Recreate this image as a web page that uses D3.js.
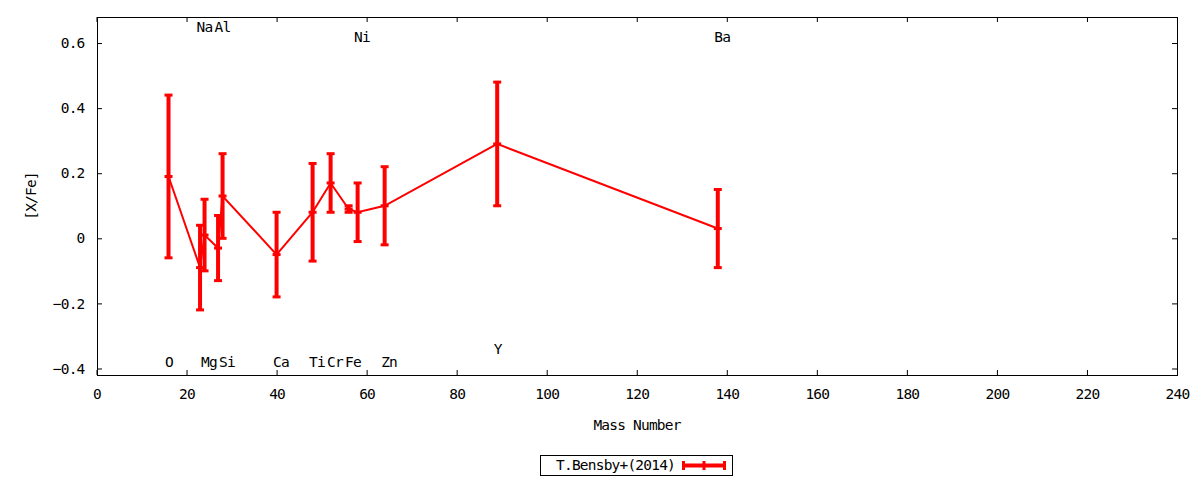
<!DOCTYPE html>
<html>
<head>
<meta charset="utf-8">
<script src="https://cdn.jsdelivr.net/npm/d3@7"></script>
<style>
  body { margin: 0; background: #fff; }
  text { font-family: "DejaVu Sans Mono", monospace; font-size: 14.5px; letter-spacing: -0.8px; fill: #000; }
</style>
</head>
<body>
<div class="chart-container"></div>
<script>
// Abundance ratios [X/Fe] vs mass number (T.Bensby+ 2014)
const elements = ['O', 'Na', 'Mg', 'Al', 'Si', 'Ca', 'Ti', 'Cr', 'Fe', 'Ni', 'Zn', 'Y', 'Ba'];
const massNumbers = [16, 23, 24, 27, 28, 40, 48, 52, 56, 58, 64, 89, 138];
const xfeValues = [0.19, -0.09, 0.01, -0.03, 0.13, -0.05, 0.08, 0.17, 0.09, 0.08, 0.10, 0.29, 0.03];
const xfeErrors = [0.25, 0.13, 0.11, 0.10, 0.13, 0.13, 0.15, 0.09, 0.01, 0.09, 0.12, 0.19, 0.12];

// element name labels (placed in data coordinates, like gnuplot "set label")
const labelX = [16, 23, 24, 27, 28, 40, 48, 52, 56, 58, 64, 89, 138];
const labelY = [-0.38, 0.65, -0.38, 0.65, -0.38, -0.38, -0.38, -0.38, -0.38, 0.62, -0.38, -0.34, 0.62];

const xTicks = [0, 20, 40, 60, 80, 100, 120, 140, 160, 180, 200, 220, 240];
const yTicks = [-0.4, -0.2, 0, 0.2, 0.4, 0.6];
const seriesName = 'T.Bensby+(2014)';

const data = elements.map((el, i) => ({
    el: el,
    mass: massNumbers[i],
    val: xfeValues[i],
    err: xfeErrors[i]
}));

// Dimensions
const W = 1200, H = 480;
const margin = { top: 17, right: 23, bottom: 105, left: 97 },
    width = W - margin.left - margin.right,
    height = H - margin.top - margin.bottom;

const svg = d3.select('.chart-container')
    .append('svg')
    .attr('width', W)
    .attr('height', H);

const g = svg.append('g')
    .attr('transform', `translate(${margin.left},${margin.top})`);

const x = d3.scaleLinear().domain([0, 240]).range([-0.5, width]);
const y = d3.scaleLinear().domain([-0.42, 0.68]).range([height, 0]);

const fmtY = d => d === 0 ? '0' : d3.format('.1f')(d);

// Axes with inward ticks (mirrored on top / right)
g.append('g')
    .attr('transform', `translate(0,${height})`)
    .call(d3.axisBottom(x).tickValues(xTicks).tickSizeInner(-5).tickSizeOuter(0).tickPadding(13.5));
g.append('g')
    .call(d3.axisLeft(y).tickValues(yTicks).tickFormat(fmtY).tickSizeInner(-5).tickSizeOuter(0).tickPadding(12.5));
g.append('g')
    .call(d3.axisTop(x).tickValues(xTicks).tickSizeInner(-5).tickSizeOuter(0).tickFormat(''));
g.append('g')
    .attr('transform', `translate(${width},0)`)
    .call(d3.axisRight(y).tickValues(yTicks).tickSizeInner(-5).tickSizeOuter(0).tickFormat(''));

g.selectAll('.domain').remove();
g.selectAll('.tick text')
    .style('font-family', '"DejaVu Sans Mono", monospace')
    .style('font-size', '14.5px')
    .style('letter-spacing', '-0.8px');

// Frame
g.append('rect')
    .attr('x', 0.5).attr('y', 0.5)
    .attr('width', width).attr('height', height)
    .attr('fill', 'none')
    .attr('stroke', '#000')
    .attr('stroke-width', 1);

// Axis titles
svg.append('text')
    .attr('x', margin.left + width / 2)
    .attr('y', 430)
    .attr('text-anchor', 'middle')
    .text('Mass Number');
svg.append('text')
    .attr('transform', `translate(31,${margin.top + height / 2}) rotate(-90)`)
    .attr('text-anchor', 'middle')
    .attr('dy', '0.35em')
    .text('[X/Fe]');

// Connecting line
const red = '#ff0000';
g.append('path')
    .datum(data)
    .attr('fill', 'none')
    .attr('stroke', red)
    .attr('stroke-width', 2)
    .attr('d', d3.line().x(d => x(d.mass)).y(d => y(d.val)));

// Error bars
const bars = g.append('g').selectAll('g').data(data).enter().append('g');
bars.append('line')
    .attr('x1', d => x(d.mass)).attr('x2', d => x(d.mass))
    .attr('y1', d => y(d.val - d.err)).attr('y2', d => y(d.val + d.err))
    .attr('stroke', red).attr('stroke-width', 4);
const capW = 4;
[d => d.val - d.err, d => d.val + d.err, d => d.val].forEach(f => {
    bars.append('line')
        .attr('x1', d => x(d.mass) - capW).attr('x2', d => x(d.mass) + capW)
        .attr('y1', d => y(f(d))).attr('y2', d => y(f(d)))
        .attr('stroke', red).attr('stroke-width', 3);
});

// Element labels
g.append('g').selectAll('text')
    .data(elements)
    .enter()
    .append('text')
    .attr('x', (d, i) => x(labelX[i]))
    .attr('y', (d, i) => y(labelY[i]))
    .attr('dx', -3.5)
    .attr('dy', '0.35em')
    .attr('text-anchor', 'start')
    .text(d => d);

// Legend
const key = svg.append('g');
key.append('rect')
    .attr('x', 540.5).attr('y', 455.5)
    .attr('width', 192).attr('height', 20)
    .attr('fill', 'none').attr('stroke', '#000').attr('stroke-width', 1);
key.append('text')
    .attr('x', 675).attr('y', 470)
    .attr('text-anchor', 'end')
    .text(seriesName);
key.append('line')
    .attr('x1', 682).attr('x2', 726).attr('y1', 465.5).attr('y2', 465.5)
    .attr('stroke', red).attr('stroke-width', 4);
[683.5, 704, 724.5].forEach(px => {
    key.append('line')
        .attr('x1', px).attr('x2', px).attr('y1', 461).attr('y2', 470)
        .attr('stroke', red).attr('stroke-width', 3);
});
</script>
</body>
</html>
